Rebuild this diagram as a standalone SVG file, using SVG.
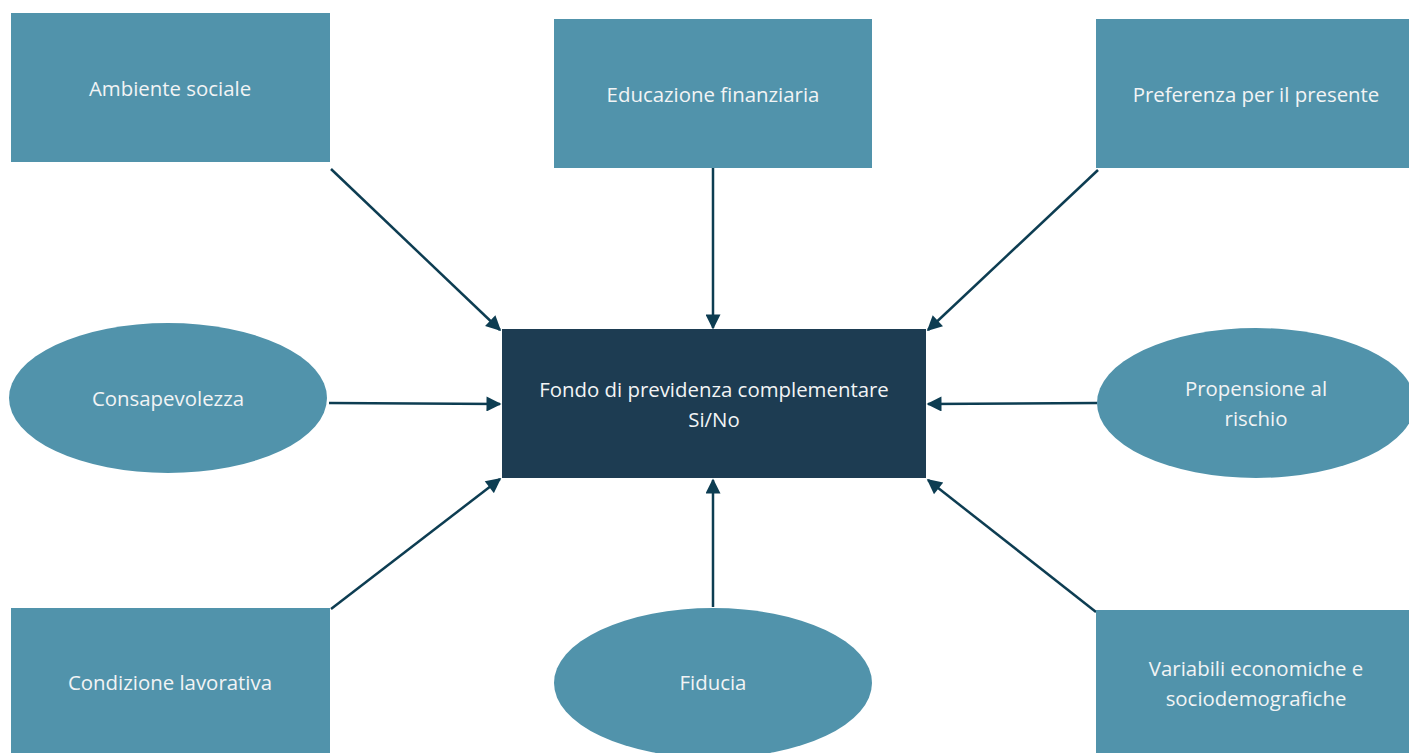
<svg xmlns="http://www.w3.org/2000/svg" width="1409" height="753" viewBox="0 0 1409 753">
<style>
.n{fill:#5193ab}
.c{fill:#1d3c52}
.t{font-family:"Open Sans","Noto Sans",sans-serif;font-size:20.4px;fill:#f2f4f5;text-anchor:middle}
.e{stroke:#0d3d52;stroke-width:2.5;fill:none;marker-end:url(#ah)}
</style>
<defs>
<marker id="ah" viewBox="0 0 10 10" refX="9" refY="5" markerWidth="7" markerHeight="6" orient="auto" markerUnits="strokeWidth">
<path d="M0,0 L10,5 L0,10 z" fill="#0d3d52"/>
</marker>
</defs>
<rect width="1409" height="753" fill="#fff"/>
<g id="connectors">
<line class="e" x1="331" y1="169" x2="500" y2="330"/>
<line class="e" x1="713" y1="168" x2="713" y2="328"/>
<line class="e" x1="1098" y1="170" x2="928" y2="330"/>
<line class="e" x1="329" y1="403" x2="500" y2="404"/>
<line class="e" x1="1097" y1="403" x2="928" y2="404"/>
<line class="e" x1="331" y1="609" x2="500" y2="479"/>
<line class="e" x1="713" y1="607" x2="713" y2="480"/>
<line class="e" x1="1096" y1="612" x2="928" y2="480"/>
</g>
<g id="center">
<rect class="c" x="502" y="329" width="424" height="149"/>
<text class="t" x="714" y="397">Fondo di previdenza complementare</text>
<text class="t" x="714" y="427">Si/No</text>
</g>
<g id="ambiente">
<rect class="n" x="11" y="13" width="319" height="149"/>
<text class="t" x="170" y="96">Ambiente sociale</text>
</g>
<g id="educazione">
<rect class="n" x="554" y="19" width="318" height="149"/>
<text class="t" x="713" y="102">Educazione finanziaria</text>
</g>
<g id="preferenza">
<rect class="n" x="1096" y="19" width="319" height="149"/>
<text class="t" x="1256" y="102">Preferenza per il presente</text>
</g>
<g id="consapevolezza">
<ellipse class="n" cx="168" cy="398" rx="159" ry="75"/>
<text class="t" x="168" y="406">Consapevolezza</text>
</g>
<g id="propensione">
<ellipse class="n" cx="1256" cy="403" rx="159" ry="75"/>
<text class="t" x="1256" y="396">Propensione al</text>
<text class="t" x="1256" y="426">rischio</text>
</g>
<g id="condizione">
<rect class="n" x="11" y="608" width="319" height="150"/>
<text class="t" x="170" y="690">Condizione lavorativa</text>
</g>
<g id="fiducia">
<ellipse class="n" cx="713" cy="683" rx="159" ry="75"/>
<text class="t" x="713" y="690">Fiducia</text>
</g>
<g id="variabili">
<rect class="n" x="1096" y="610" width="319" height="150"/>
<text class="t" x="1256" y="676">Variabili economiche e</text>
<text class="t" x="1256" y="706">sociodemografiche</text>
</g>
</svg>
